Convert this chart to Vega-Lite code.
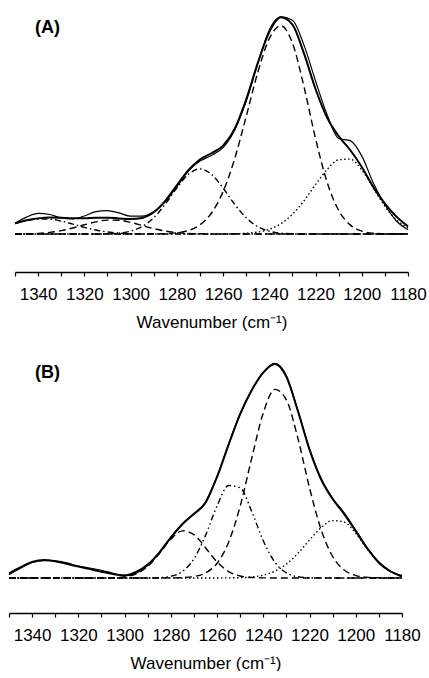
{
  "$schema": "https://vega.github.io/schema/vega-lite/v6.json",
  "background": "white",
  "padding": {"left": 5, "top": 0, "right": 0, "bottom": 0},
  "autosize": {"type": "pad"},
  "bounds": "flush",
  "spacing": 69,
  "resolve": {"scale": {"strokeDash": "independent"}},
  "config": {
    "view": {"stroke": null},
    "axis": {
      "domainColor": "black", "domainWidth": 1.5,
      "tickColor": "black", "tickWidth": 1.2, "tickSize": 4,
      "labelFont": "Liberation Sans", "labelFontSize": 17, "labelColor": "black", "labelPadding": 10,
      "titleFont": "Liberation Sans", "titleFontSize": 17, "titleFontWeight": "normal", "titleColor": "black", "titlePadding": 12,
      "grid": false
    }
  },
  "datasets": {
    "A": [
      {"s":"fit","w":1350,"v":0.049},{"s":"fit","w":1345,"v":0.063},{"s":"fit","w":1340,"v":0.072},{"s":"fit","w":1335,"v":0.076},{"s":"fit","w":1330,"v":0.075},{"s":"fit","w":1325,"v":0.073},{"s":"fit","w":1320,"v":0.073},{"s":"fit","w":1315,"v":0.075},{"s":"fit","w":1310,"v":0.075},{"s":"fit","w":1305,"v":0.072},{"s":"fit","w":1300,"v":0.069},{"s":"fit","w":1295,"v":0.074},{"s":"fit","w":1290,"v":0.1},{"s":"fit","w":1285,"v":0.153},{"s":"fit","w":1280,"v":0.224},{"s":"fit","w":1275,"v":0.294},{"s":"fit","w":1270,"v":0.343},{"s":"fit","w":1265,"v":0.372},{"s":"fit","w":1260,"v":0.407},{"s":"fit","w":1255,"v":0.484},{"s":"fit","w":1250,"v":0.619},{"s":"fit","w":1245,"v":0.787},{"s":"fit","w":1240,"v":0.93},{"s":"fit","w":1235,"v":0.998},{"s":"fit","w":1230,"v":0.965},{"s":"fit","w":1225,"v":0.832},{"s":"fit","w":1220,"v":0.668},{"s":"fit","w":1215,"v":0.536},{"s":"fit","w":1210,"v":0.451},{"s":"fit","w":1205,"v":0.387},{"s":"fit","w":1200,"v":0.309},{"s":"fit","w":1195,"v":0.216},{"s":"fit","w":1190,"v":0.14},{"s":"fit","w":1185,"v":0.08},{"s":"fit","w":1180,"v":0.035},
      {"s":"data","w":1350,"v":0.05},{"s":"data","w":1345,"v":0.078},{"s":"data","w":1340,"v":0.095},{"s":"data","w":1335,"v":0.09},{"s":"data","w":1330,"v":0.074},{"s":"data","w":1325,"v":0.07},{"s":"data","w":1320,"v":0.083},{"s":"data","w":1315,"v":0.103},{"s":"data","w":1310,"v":0.108},{"s":"data","w":1305,"v":0.097},{"s":"data","w":1300,"v":0.082},{"s":"data","w":1295,"v":0.082},{"s":"data","w":1290,"v":0.102},{"s":"data","w":1285,"v":0.148},{"s":"data","w":1280,"v":0.218},{"s":"data","w":1275,"v":0.29},{"s":"data","w":1270,"v":0.336},{"s":"data","w":1265,"v":0.362},{"s":"data","w":1260,"v":0.398},{"s":"data","w":1255,"v":0.478},{"s":"data","w":1250,"v":0.612},{"s":"data","w":1245,"v":0.785},{"s":"data","w":1240,"v":0.94},{"s":"data","w":1235,"v":1.0},{"s":"data","w":1230,"v":0.985},{"s":"data","w":1225,"v":0.87},{"s":"data","w":1220,"v":0.705},{"s":"data","w":1215,"v":0.55},{"s":"data","w":1210,"v":0.44},{"s":"data","w":1205,"v":0.43},{"s":"data","w":1200,"v":0.36},{"s":"data","w":1195,"v":0.235},{"s":"data","w":1190,"v":0.135},{"s":"data","w":1185,"v":0.06},{"s":"data","w":1180,"v":0.02},
      {"s":"c1338","w":1350,"v":0.0485},{"s":"c1338","w":1345,"v":0.0618},{"s":"c1338","w":1340,"v":0.0693},{"s":"c1338","w":1335,"v":0.0684},{"s":"c1338","w":1330,"v":0.0595},{"s":"c1338","w":1325,"v":0.0455},{"s":"c1338","w":1320,"v":0.0306},{"s":"c1338","w":1315,"v":0.0182},{"s":"c1338","w":1310,"v":0.0095},{"s":"c1338","w":1305,"v":0.0043},{"s":"c1338","w":1300,"v":0.0018},{"s":"c1338","w":1295,"v":0.0006},{"s":"c1338","w":1290,"v":0},{"s":"c1338","w":1180,"v":0},
      {"s":"c1308","w":1350,"v":0.0004},{"s":"c1308","w":1345,"v":0.0011},{"s":"c1308","w":1340,"v":0.0031},{"s":"c1308","w":1335,"v":0.0075},{"s":"c1308","w":1330,"v":0.0155},{"s":"c1308","w":1325,"v":0.0277},{"s":"c1308","w":1320,"v":0.0425},{"s":"c1308","w":1315,"v":0.0562},{"s":"c1308","w":1310,"v":0.0642},{"s":"c1308","w":1305,"v":0.0633},{"s":"c1308","w":1300,"v":0.0538},{"s":"c1308","w":1295,"v":0.0394},{"s":"c1308","w":1290,"v":0.0249},{"s":"c1308","w":1285,"v":0.0136},{"s":"c1308","w":1280,"v":0.0064},{"s":"c1308","w":1275,"v":0.0026},{"s":"c1308","w":1270,"v":0.0009},{"s":"c1308","w":1265,"v":0.0003},{"s":"c1308","w":1260,"v":0},{"s":"c1308","w":1180,"v":0},
      {"s":"c1270","w":1350,"v":0},{"s":"c1270","w":1320,"v":0},{"s":"c1270","w":1315,"v":0.0003},{"s":"c1270","w":1310,"v":0.0012},{"s":"c1270","w":1305,"v":0.0043},{"s":"c1270","w":1300,"v":0.0132},{"s":"c1270","w":1295,"v":0.0342},{"s":"c1270","w":1290,"v":0.0748},{"s":"c1270","w":1285,"v":0.1374},{"s":"c1270","w":1280,"v":0.212},{"s":"c1270","w":1275,"v":0.275},{"s":"c1270","w":1270,"v":0.3},{"s":"c1270","w":1265,"v":0.275},{"s":"c1270","w":1260,"v":0.212},{"s":"c1270","w":1255,"v":0.137},{"s":"c1270","w":1250,"v":0.075},{"s":"c1270","w":1245,"v":0.034},{"s":"c1270","w":1240,"v":0.013},{"s":"c1270","w":1235,"v":0.004},{"s":"c1270","w":1230,"v":0.001},{"s":"c1270","w":1225,"v":0},{"s":"c1270","w":1180,"v":0},
      {"s":"c1235","w":1350,"v":0},{"s":"c1235","w":1300,"v":0},{"s":"c1235","w":1295,"v":0.0001},{"s":"c1235","w":1290,"v":0.0004},{"s":"c1235","w":1285,"v":0.0016},{"s":"c1235","w":1280,"v":0.0055},{"s":"c1235","w":1275,"v":0.0162},{"s":"c1235","w":1270,"v":0.042},{"s":"c1235","w":1265,"v":0.0967},{"s":"c1235","w":1260,"v":0.195},{"s":"c1235","w":1255,"v":0.346},{"s":"c1235","w":1250,"v":0.541},{"s":"c1235","w":1245,"v":0.744},{"s":"c1235","w":1240,"v":0.9},{"s":"c1235","w":1235,"v":0.96},{"s":"c1235","w":1230,"v":0.88},{"s":"c1235","w":1225,"v":0.679},{"s":"c1235","w":1220,"v":0.44},{"s":"c1235","w":1215,"v":0.239},{"s":"c1235","w":1210,"v":0.109},{"s":"c1235","w":1205,"v":0.042},{"s":"c1235","w":1200,"v":0.0137},{"s":"c1235","w":1195,"v":0.0037},{"s":"c1235","w":1190,"v":0.0009},{"s":"c1235","w":1185,"v":0.0002},{"s":"c1235","w":1180,"v":0},
      {"s":"c1207","w":1350,"v":0},{"s":"c1207","w":1265,"v":0},{"s":"c1207","w":1260,"v":0.0003},{"s":"c1207","w":1255,"v":0.001},{"s":"c1207","w":1250,"v":0.0031},{"s":"c1207","w":1245,"v":0.0088},{"s":"c1207","w":1240,"v":0.0218},{"s":"c1207","w":1235,"v":0.0474},{"s":"c1207","w":1230,"v":0.0908},{"s":"c1207","w":1225,"v":0.153},{"s":"c1207","w":1220,"v":0.2275},{"s":"c1207","w":1215,"v":0.297},{"s":"c1207","w":1210,"v":0.342},{"s":"c1207","w":1205,"v":0.345},{"s":"c1207","w":1200,"v":0.295},{"s":"c1207","w":1195,"v":0.2125},{"s":"c1207","w":1190,"v":0.128},{"s":"c1207","w":1185,"v":0.065},{"s":"c1207","w":1180,"v":0.028}
    ],
    "B": [
      {"s":"fit","w":1350,"v":0.02},{"s":"fit","w":1345,"v":0.05},{"s":"fit","w":1340,"v":0.074},{"s":"fit","w":1335,"v":0.083},{"s":"fit","w":1330,"v":0.078},{"s":"fit","w":1325,"v":0.066},{"s":"fit","w":1320,"v":0.053},{"s":"fit","w":1315,"v":0.041},{"s":"fit","w":1310,"v":0.029},{"s":"fit","w":1305,"v":0.018},{"s":"fit","w":1300,"v":0.012},{"s":"fit","w":1295,"v":0.028},{"s":"fit","w":1290,"v":0.062},{"s":"fit","w":1285,"v":0.118},{"s":"fit","w":1280,"v":0.188},{"s":"fit","w":1275,"v":0.25},{"s":"fit","w":1270,"v":0.297},{"s":"fit","w":1265,"v":0.35},{"s":"fit","w":1260,"v":0.47},{"s":"fit","w":1255,"v":0.62},{"s":"fit","w":1250,"v":0.762},{"s":"fit","w":1245,"v":0.873},{"s":"fit","w":1240,"v":0.955},{"s":"fit","w":1235,"v":0.995},{"s":"fit","w":1230,"v":0.935},{"s":"fit","w":1225,"v":0.775},{"s":"fit","w":1220,"v":0.597},{"s":"fit","w":1215,"v":0.459},{"s":"fit","w":1210,"v":0.367},{"s":"fit","w":1205,"v":0.297},{"s":"fit","w":1200,"v":0.218},{"s":"fit","w":1195,"v":0.137},{"s":"fit","w":1190,"v":0.071},{"s":"fit","w":1185,"v":0.03},{"s":"fit","w":1180,"v":0.01},
      {"s":"data","w":1350,"v":0.015},{"s":"data","w":1345,"v":0.045},{"s":"data","w":1340,"v":0.072},{"s":"data","w":1335,"v":0.08},{"s":"data","w":1330,"v":0.08},{"s":"data","w":1325,"v":0.07},{"s":"data","w":1320,"v":0.055},{"s":"data","w":1315,"v":0.046},{"s":"data","w":1310,"v":0.036},{"s":"data","w":1305,"v":0.022},{"s":"data","w":1300,"v":0.01},{"s":"data","w":1295,"v":0.022},{"s":"data","w":1290,"v":0.058},{"s":"data","w":1285,"v":0.115},{"s":"data","w":1280,"v":0.19},{"s":"data","w":1275,"v":0.253},{"s":"data","w":1270,"v":0.3},{"s":"data","w":1265,"v":0.353},{"s":"data","w":1260,"v":0.472},{"s":"data","w":1255,"v":0.622},{"s":"data","w":1250,"v":0.765},{"s":"data","w":1245,"v":0.875},{"s":"data","w":1240,"v":0.957},{"s":"data","w":1235,"v":0.998},{"s":"data","w":1230,"v":0.94},{"s":"data","w":1225,"v":0.778},{"s":"data","w":1220,"v":0.6},{"s":"data","w":1215,"v":0.462},{"s":"data","w":1210,"v":0.37},{"s":"data","w":1205,"v":0.303},{"s":"data","w":1200,"v":0.222},{"s":"data","w":1195,"v":0.14},{"s":"data","w":1190,"v":0.075},{"s":"data","w":1185,"v":0.032},{"s":"data","w":1180,"v":0.004},
      {"s":"c1274","w":1350,"v":0},{"s":"c1274","w":1315,"v":0},{"s":"c1274","w":1310,"v":0.0002},{"s":"c1274","w":1305,"v":0.0011},{"s":"c1274","w":1300,"v":0.0052},{"s":"c1274","w":1295,"v":0.0191},{"s":"c1274","w":1290,"v":0.0533},{"s":"c1274","w":1285,"v":0.1126},{"s":"c1274","w":1280,"v":0.18},{"s":"c1274","w":1275,"v":0.2188},{"s":"c1274","w":1270,"v":0.2014},{"s":"c1274","w":1265,"v":0.1405},{"s":"c1274","w":1260,"v":0.0743},{"s":"c1274","w":1255,"v":0.0298},{"s":"c1274","w":1250,"v":0.0091},{"s":"c1274","w":1245,"v":0.0021},{"s":"c1274","w":1240,"v":0.0004},{"s":"c1274","w":1235,"v":0},{"s":"c1274","w":1180,"v":0},
      {"s":"c1253","w":1350,"v":0},{"s":"c1253","w":1295,"v":0},{"s":"c1253","w":1290,"v":0.0002},{"s":"c1253","w":1285,"v":0.0015},{"s":"c1253","w":1280,"v":0.0077},{"s":"c1253","w":1275,"v":0.0301},{"s":"c1253","w":1270,"v":0.0887},{"s":"c1253","w":1265,"v":0.198},{"s":"c1253","w":1260,"v":0.335},{"s":"c1253","w":1255,"v":0.43},{"s":"c1253","w":1250,"v":0.419},{"s":"c1253","w":1245,"v":0.309},{"s":"c1253","w":1240,"v":0.1725},{"s":"c1253","w":1235,"v":0.073},{"s":"c1253","w":1230,"v":0.0235},{"s":"c1253","w":1225,"v":0.0057},{"s":"c1253","w":1220,"v":0.0011},{"s":"c1253","w":1215,"v":0.0002},{"s":"c1253","w":1210,"v":0},{"s":"c1253","w":1180,"v":0},
      {"s":"c1234","w":1350,"v":0},{"s":"c1234","w":1285,"v":0},{"s":"c1234","w":1280,"v":0.0003},{"s":"c1234","w":1275,"v":0.0015},{"s":"c1234","w":1270,"v":0.0066},{"s":"c1234","w":1265,"v":0.0233},{"s":"c1234","w":1260,"v":0.0683},{"s":"c1234","w":1255,"v":0.166},{"s":"c1234","w":1250,"v":0.334},{"s":"c1234","w":1245,"v":0.557},{"s":"c1234","w":1240,"v":0.768},{"s":"c1234","w":1235,"v":0.877},{"s":"c1234","w":1230,"v":0.828},{"s":"c1234","w":1225,"v":0.648},{"s":"c1234","w":1220,"v":0.419},{"s":"c1234","w":1215,"v":0.225},{"s":"c1234","w":1210,"v":0.0997},{"s":"c1234","w":1205,"v":0.0366},{"s":"c1234","w":1200,"v":0.0111},{"s":"c1234","w":1195,"v":0.0028},{"s":"c1234","w":1190,"v":0.0006},{"s":"c1234","w":1185,"v":0.0001},{"s":"c1234","w":1180,"v":0},
      {"s":"c1208","w":1350,"v":0},{"s":"c1208","w":1265,"v":0},{"s":"c1208","w":1260,"v":0.0001},{"s":"c1208","w":1255,"v":0.0004},{"s":"c1208","w":1250,"v":0.0015},{"s":"c1208","w":1245,"v":0.0047},{"s":"c1208","w":1240,"v":0.013},{"s":"c1208","w":1235,"v":0.0312},{"s":"c1208","w":1230,"v":0.0645},{"s":"c1208","w":1225,"v":0.1148},{"s":"c1208","w":1220,"v":0.1764},{"s":"c1208","w":1215,"v":0.2336},{"s":"c1208","w":1210,"v":0.2668},{"s":"c1208","w":1205,"v":0.26},{"s":"c1208","w":1200,"v":0.207},{"s":"c1208","w":1195,"v":0.134},{"s":"c1208","w":1190,"v":0.0708},{"s":"c1208","w":1185,"v":0.0303},{"s":"c1208","w":1180,"v":0.0105}
    ]
  },
  "vconcat": [
    {
      "width": 393, "height": 272,
      "title": {"text": "(A)", "anchor": "start", "frame": "group", "offset": 0, "dx": 20, "dy": 51, "baseline": "alphabetic", "font": "Liberation Sans", "fontSize": 18, "fontWeight": "bold", "color": "black"},
      "data": {"name": "A"},
      "encoding": {
        "x": {"field": "w", "type": "quantitative", "scale": {"domain": [1350, 1180], "range": [0, 393], "nice": false, "zero": false},
          "axis": {"values": [1350,1340,1330,1320,1310,1300,1290,1280,1270,1260,1250,1240,1230,1220,1210,1200,1190,1180], "format": "d", "labelExpr": "datum.value % 20 == 0 ? datum.label : ''", "labelOverlap": false, "labelFlush": false, "title": "Wavenumber (cm⁻¹)"}},
        "y": {"field": "v", "type": "quantitative", "scale": {"domain": [-0.175, 1.078], "nice": false, "zero": false}, "axis": null}
      },
      "layer": [
        {"transform": [{"filter": "datum.s != 'fit' && datum.s != 'data'"}],
         "mark": {"type": "line", "interpolate": "monotone", "strokeWidth": 1.4, "color": "black"},
         "encoding": {"strokeDash": {"field": "s", "type": "nominal", "scale": {"domain": ["c1338","c1308","c1270","c1235","c1207"], "range": [[6,3,1.5,3],[7,4],[6,3,1.5,3],[7,4],[1.5,2.5]]}, "legend": null}}},
        {"transform": [{"filter": "datum.s == 'data'"}],
         "mark": {"type": "line", "interpolate": "monotone", "strokeWidth": 1.2, "color": "black"}},
        {"transform": [{"filter": "datum.s == 'fit'"}],
         "mark": {"type": "line", "interpolate": "monotone", "strokeWidth": 2, "color": "black"}}
      ]
    },
    {
      "width": 393, "height": 272,
      "title": {"text": "(B)", "anchor": "start", "frame": "group", "offset": 0, "dx": 20, "dy": 55, "baseline": "alphabetic", "font": "Liberation Sans", "fontSize": 18, "fontWeight": "bold", "color": "black"},
      "data": {"name": "B"},
      "encoding": {
        "x": {"field": "w", "type": "quantitative", "scale": {"domain": [1350, 1180], "range": [-6, 387], "nice": false, "zero": false},
          "axis": {"values": [1350,1340,1330,1320,1310,1300,1290,1280,1270,1260,1250,1240,1230,1220,1210,1200,1190,1180], "format": "d", "labelExpr": "datum.value % 20 == 0 ? datum.label : ''", "labelOverlap": false, "labelFlush": false, "title": "Wavenumber (cm⁻¹)"}},
        "y": {"field": "v", "type": "quantitative", "scale": {"domain": [-0.163, 1.102], "nice": false, "zero": false}, "axis": null}
      },
      "layer": [
        {"transform": [{"filter": "datum.s != 'fit' && datum.s != 'data'"}],
         "mark": {"type": "line", "interpolate": "monotone", "strokeWidth": 1.4, "color": "black"},
         "encoding": {"strokeDash": {"field": "s", "type": "nominal", "scale": {"domain": ["c1274","c1253","c1234","c1208"], "range": [[7,4],[6,3,1.5,3,1.5,3],[7,4],[1.5,2.5]]}, "legend": null}}},
        {"transform": [{"filter": "datum.s == 'data'"}],
         "mark": {"type": "line", "interpolate": "monotone", "strokeWidth": 1.2, "color": "black"}},
        {"transform": [{"filter": "datum.s == 'fit'"}],
         "mark": {"type": "line", "interpolate": "monotone", "strokeWidth": 2, "color": "black"}}
      ]
    }
  ]
}
